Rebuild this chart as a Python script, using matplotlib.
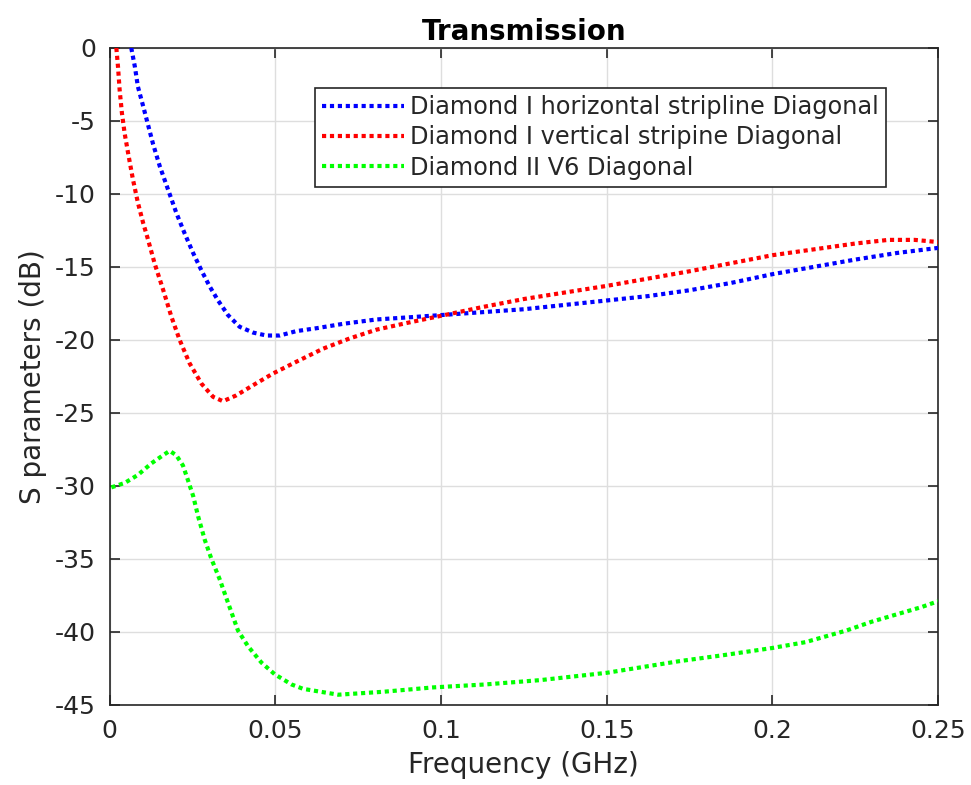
import numpy as np
import matplotlib
matplotlib.use('Agg')
import matplotlib.pyplot as plt

# Transmission curves (frequency in GHz, S21 in dB)
freq_h = [0.0065, 0.0076, 0.0085, 0.0101, 0.0116, 0.0131, 0.0151, 0.0176, 0.0201,
          0.0226, 0.0252, 0.0277, 0.0302, 0.0327, 0.0357, 0.0392, 0.0433, 0.0473,
          0.0513, 0.0563, 0.0624, 0.0704, 0.0805, 0.0905, 0.100, 0.1125, 0.125,
          0.1375, 0.150, 0.1625, 0.175, 0.1875, 0.200, 0.2125, 0.225, 0.2375, 0.250]
s_h = [0.0, -1.3, -2.65, -4.0, -5.3, -6.6, -8.1, -9.7, -11.3,
       -12.7, -14.06, -15.25, -16.35, -17.3, -18.3, -19.1, -19.5, -19.7,
       -19.7, -19.4, -19.2, -18.9, -18.6, -18.45, -18.3, -18.1, -17.9,
       -17.6, -17.3, -17.0, -16.6, -16.1, -15.5, -15.0, -14.5, -14.05, -13.7]

freq_v = [0.0020, 0.0025, 0.0030, 0.0037, 0.0045, 0.0057, 0.0070, 0.0085, 0.0101,
          0.0114, 0.0136, 0.0161, 0.0186, 0.0211, 0.0241, 0.0277, 0.0312, 0.0342,
          0.0382, 0.0433, 0.0493, 0.0563, 0.0644, 0.0724, 0.0805, 0.0905, 0.100,
          0.1125, 0.125, 0.1375, 0.150, 0.1625, 0.175, 0.1875, 0.200, 0.2125,
          0.225, 0.235, 0.243, 0.250]
s_v = [0.0, -1.3, -2.9, -4.5, -5.85, -7.4, -9.0, -10.6, -12.0,
       -13.0, -14.8, -16.55, -18.4, -20.0, -21.6, -23.0, -23.9, -24.2,
       -23.8, -23.1, -22.3, -21.5, -20.6, -19.9, -19.3, -18.8, -18.35,
       -17.75, -17.2, -16.75, -16.3, -15.8, -15.3, -14.75, -14.2, -13.8,
       -13.4, -13.15, -13.15, -13.3]

freq_d2 = [0.0005, 0.0045, 0.0085, 0.0126, 0.0161, 0.0181, 0.0201, 0.0221, 0.0236,
           0.0252, 0.0267, 0.0287, 0.0307, 0.0332, 0.0357, 0.0387, 0.0418, 0.0458,
           0.0498, 0.0549, 0.0584, 0.0690, 0.0825, 0.0976, 0.1132, 0.130, 0.150,
           0.172, 0.185, 0.200, 0.210, 0.2224, 0.230, 0.2375, 0.245, 0.250]
s_d2 = [-30.1, -29.8, -29.25, -28.45, -27.9, -27.6, -27.9, -28.6, -29.6,
        -30.7, -32.1, -33.7, -35.0, -36.4, -38.0, -39.9, -41.0, -42.1,
        -42.9, -43.6, -43.9, -44.3, -44.1, -43.8, -43.6, -43.3, -42.8,
        -42.0, -41.6, -41.1, -40.7, -39.9, -39.3, -38.8, -38.3, -37.9]

labels = ['Diamond I horizontal stripline Diagonal',
          'Diamond I vertical stripine Diagonal',
          'Diamond II V6 Diagonal']
colors = ['#0000ff', '#ff0000', '#00ff00']

plt.rcParams['font.family'] = ['DejaVu Sans']
plt.rcParams['axes.unicode_minus'] = False
txt = '#262626'

fig = plt.figure(figsize=(9.71, 7.85), dpi=100, facecolor='white')
ax = fig.add_axes([0.113, 0.102, 0.853, 0.837])

for fx, sy, lab, col in zip([freq_h, freq_v, freq_d2], [s_h, s_v, s_d2], labels, colors):
    ax.plot(fx, sy, color=col, linewidth=3, linestyle=(0, (1, 0.9)),
            label=lab, zorder=3)

ax.set_xlim(0, 0.25)
ax.set_ylim(-45, 0)
ax.set_xticks([0, 0.05, 0.1, 0.15, 0.2, 0.25])
ax.set_xticklabels(['0', '0.05', '0.1', '0.15', '0.2', '0.25'])
ax.set_yticks(np.arange(-45, 1, 5))
ax.grid(True, color='#dedede', linewidth=1.0)
ax.set_axisbelow(True)
ax.tick_params(direction='in', top=True, right=True, length=7, width=1.2,
               labelsize=18, colors=txt, pad=10)
for sp in ax.spines.values():
    sp.set_edgecolor(txt)
    sp.set_linewidth(1.2)

ax.set_xlabel('Frequency (GHz)', fontsize=20, color=txt, labelpad=6)
ax.set_ylabel('S parameters (dB)', fontsize=20, color=txt, labelpad=6)
ax.set_title('Transmission', fontsize=20, fontweight='bold', color='black', pad=6)

leg = ax.legend(loc='upper right', bbox_to_anchor=(0.937, 0.939), fontsize=17.3,
                frameon=True, fancybox=False, framealpha=1, edgecolor=txt,
                handlelength=3.4, handletextpad=0.25, borderpad=0.3,
                labelspacing=0.26, borderaxespad=0)
leg.get_frame().set_linewidth(1.2)
for t in leg.get_texts():
    t.set_color(txt)

plt.savefig('out.png', dpi=100, facecolor='white')
plt.close()
